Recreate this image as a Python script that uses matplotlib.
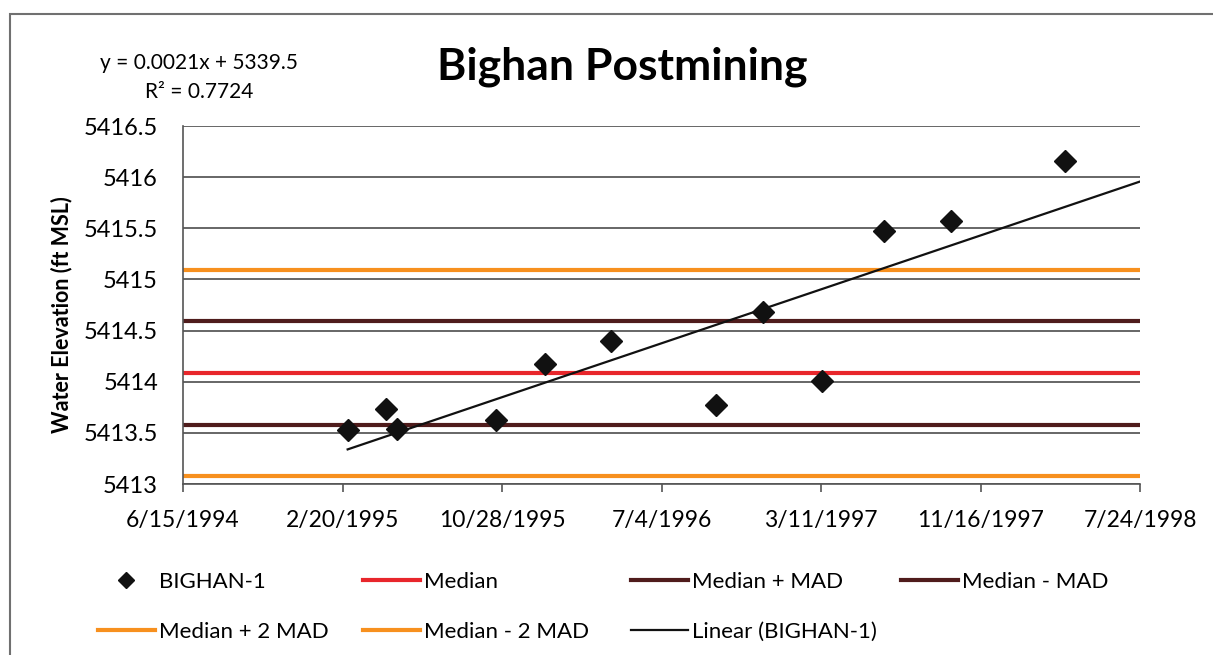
from datetime import datetime
import matplotlib
matplotlib.use("Agg")
import matplotlib.pyplot as plt
import matplotlib.dates as mdates
from matplotlib.patches import Rectangle
import numpy as np

plt.rcParams['font.family'] = ['Lato', 'DejaVu Sans']

# water level readings, BIGHAN-1
sample_dates = ['2/28/1995', '4/29/1995', '5/16/1995', '10/18/1995', '1/4/1996',
                '4/15/1996', '9/27/1996', '12/10/1996', '3/12/1997', '6/18/1997',
                '9/30/1997', '3/29/1998']
elevation = [5413.53, 5413.73, 5413.54, 5413.63, 5414.17, 5414.40,
             5413.77, 5414.68, 5414.01, 5415.47, 5415.57, 5416.16]

median = 5414.085
mad = 0.505

x_tick_labels = ['6/15/1994', '2/20/1995', '10/28/1995', '7/4/1996',
                 '3/11/1997', '11/16/1997', '7/24/1998']
y_ticks = [5413, 5413.5, 5414, 5414.5, 5415, 5415.5, 5416, 5416.5]
y_tick_labels = ['5413', '5413.5', '5414', '5414.5', '5415', '5415.5', '5416', '5416.5']

eq_text = 'y = 0.0021x + 5339.5'
r2_text = 'R² = 0.7724'


def to_num(s):
    return mdates.date2num(datetime.strptime(s, '%m/%d/%Y'))


xs = np.array([to_num(d) for d in sample_dates])
ys = np.array(elevation)
xticks = [to_num(d) for d in x_tick_labels]

fig = plt.figure(figsize=(12.13, 6.55), dpi=100)
ax = fig.add_axes([0.1509, 0.261, 0.7890, 0.5466])

for v in y_ticks:
    ax.axhline(v, color='#4d4d4d', lw=1.2, zorder=1)

ax.set_xlim(xticks[0], xticks[-1])
ax.set_ylim(y_ticks[0], y_ticks[-1])

h_med, = ax.plot([xticks[0], xticks[-1]], [median, median], color='#e8262b', lw=3, label='Median', zorder=2)
h_p1, = ax.plot([xticks[0], xticks[-1]], [median + mad] * 2, color='#4f1c1c', lw=3, label='Median + MAD', zorder=2)
h_m1, = ax.plot([xticks[0], xticks[-1]], [median - mad] * 2, color='#4f1c1c', lw=3, label='Median - MAD', zorder=2)
h_p2, = ax.plot([xticks[0], xticks[-1]], [median + 2 * mad] * 2, color='#f7901e', lw=3, label='Median + 2 MAD', zorder=2)
h_m2, = ax.plot([xticks[0], xticks[-1]], [median - 2 * mad] * 2, color='#f7901e', lw=3, label='Median - 2 MAD', zorder=2)

# linear trend, carried on to the end of the axis
slope, icpt = np.polyfit(xs, ys, 1)
tx = np.array([xs[0], xticks[-1]])
h_lin, = ax.plot(tx, slope * tx + icpt, color='#111111', lw=1.6, label='Linear (BIGHAN-1)', zorder=3)

h_pts, = ax.plot(xs, ys, linestyle='none', marker='D', markersize=11.5, color='#111111',
                 label='BIGHAN-1', zorder=4)

ax.set_xticks(xticks)
ax.set_xticklabels(x_tick_labels)
ax.set_yticks(y_ticks)
ax.set_yticklabels(y_tick_labels)
ax.tick_params(axis='x', direction='out', length=6, width=1.2, color='#555555', pad=13, labelsize=16.5)
ax.tick_params(axis='y', length=0, pad=18, labelsize=17)

for s in ['top', 'right']:
    ax.spines[s].set_visible(False)
for s in ['left', 'bottom']:
    ax.spines[s].set_color('#555555')
    ax.spines[s].set_linewidth(1.2)

fig.text(62 / 1213, 1 - 315 / 655, 'Water Elevation (ft MSL)', rotation=90, fontsize=15.5,
         fontweight='bold', ha='center', va='center')
fig.text(622 / 1213, 1 - 67 / 655, 'Bighan Postmining', fontsize=32, fontweight='bold',
         ha='center', va='center')
fig.text(199 / 1213, 1 - 63 / 655, eq_text, fontsize=15, ha='center', va='center')
fig.text(199 / 1213, 1 - 92 / 655, r2_text, fontsize=15, ha='center', va='center')

# legend, laid out in four columns like the spreadsheet legend
columns = [[h_pts, h_p2], [h_med, h_m2], [h_p1, h_lin], [h_m1]]
col_x = [98, 363, 631, 901]
for hs, cx in zip(columns, col_x):
    fig.legend(handles=hs, loc='upper left', bbox_to_anchor=(cx / 1213, 1 - 572 / 655),
               frameon=False, fontsize=16, handlelength=2.55, handletextpad=0.2,
               labelspacing=1.35, borderpad=0, borderaxespad=0, markerscale=0.75)

fig.add_artist(Rectangle((10 / 1213, -0.1), 1.2, 1.1 - 14 / 655, transform=fig.transFigure,
                         fill=False, edgecolor='#707070', lw=1.5))

fig.savefig('out.png', dpi=100)
